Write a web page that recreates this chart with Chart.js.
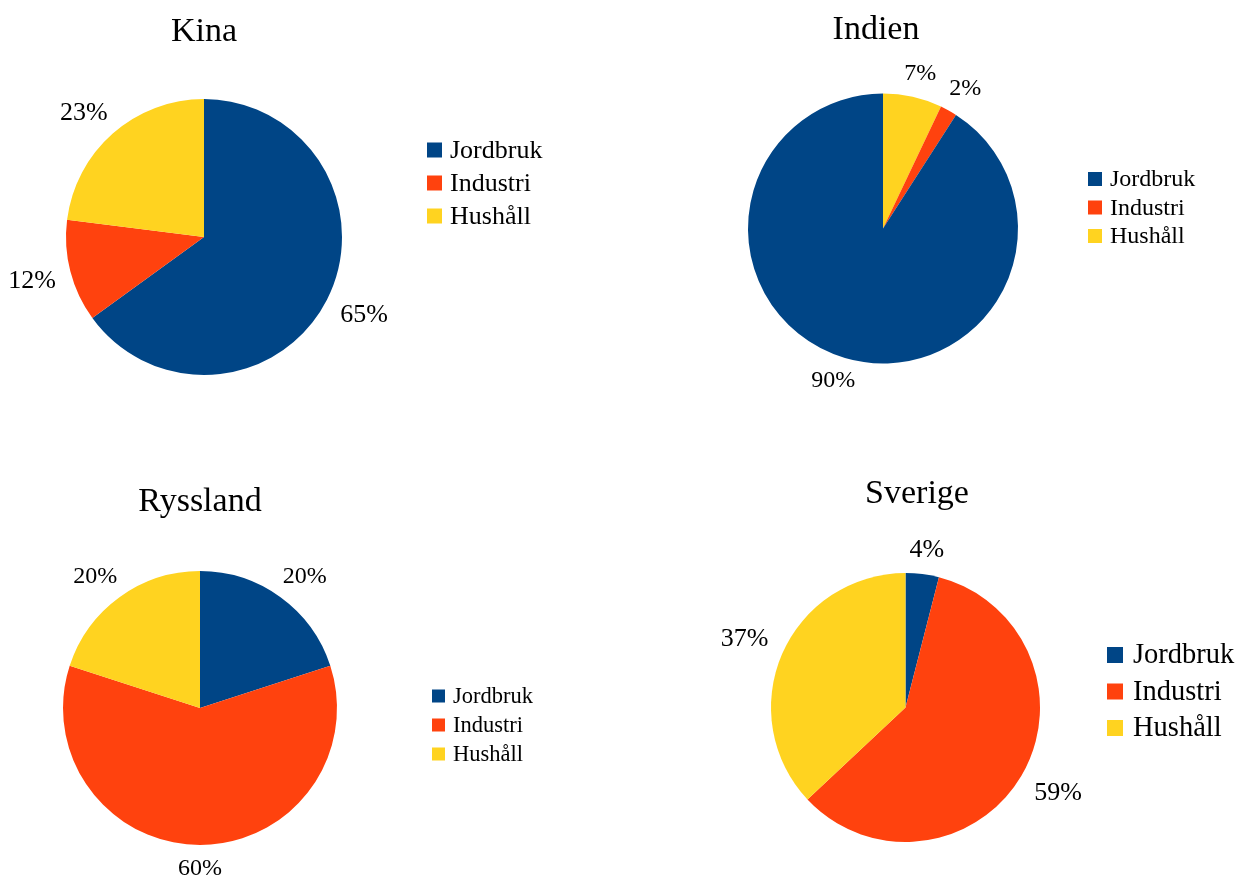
<!DOCTYPE html>
<html>
  <head>
    <meta charset="utf-8">
    <title>Vattenanvändning</title>
    <script src="https://cdn.jsdelivr.net/npm/chart.js"></script>
    <style>
      body { margin: 0; background: #fff; }
      canvas { position: absolute; left: 0; top: 0; }
    </style>
  </head>
  <body>
    <canvas id="kina" width="1239" height="880"></canvas>
    <canvas id="indien" width="1239" height="880"></canvas>
    <canvas id="ryssland" width="1239" height="880"></canvas>
    <canvas id="sverige" width="1239" height="880"></canvas>
    <script>
      // Sectors and their shares (%) per country
      const categories = ["Jordbruk", "Industri", "Hushåll"];
      const colors = ["#004586", "#ff420e", "#ffd320"];
      const kina = [65, 12, 23];
      const indien = [90, 2, 7];
      const ryssland = [20, 60, 20];
      const sverige = [4, 59, 37];

      const W = 1239, H = 880;
      const FONT = "'Liberation Serif', 'Times New Roman', serif";

      // Where each pie sits and how its title, legend and labels are set
      const layouts = [
        { id: "kina", title: "Kina", values: kina, cx: 204, cy: 237, r: 138,
          tx: 204, ty: 41, lx: 427, ltx: 450, ly: 150, lstep: 33, box: 15, lfont: 26, pfont: 26 },
        { id: "indien", title: "Indien", values: indien, cx: 883, cy: 228.5, r: 135, reverse: true,
          tx: 876, ty: 39, lx: 1088, ltx: 1110, ly: 179, lstep: 28.5, box: 14, lfont: 24, pfont: 24 },
        { id: "ryssland", title: "Ryssland", values: ryssland, cx: 200, cy: 708, r: 137,
          tx: 200, ty: 511, lx: 432, ltx: 453, ly: 696, lstep: 29, box: 13, lfont: 22.5, pfont: 24 },
        { id: "sverige", title: "Sverige", values: sverige, cx: 905.5, cy: 707.5, r: 134.5,
          tx: 917, ty: 503, lx: 1107, ltx: 1133, ly: 655, lstep: 36.5, box: 16, lfont: 28.5, pfont: 26 }
      ];

      const clamp = v => Math.max(-1, Math.min(1, v));

      // Title, legend and outside percentage labels
      const extras = {
        id: "extras",
        afterDraw(chart, args, o) {
          const ctx = chart.ctx;
          ctx.save();
          ctx.fillStyle = "#000";

          ctx.font = "34px " + FONT;
          ctx.textAlign = "center";
          ctx.textBaseline = "alphabetic";
          ctx.fillText(o.title, o.tx, o.ty);

          ctx.font = o.lfont + "px " + FONT;
          ctx.textAlign = "left";
          ctx.textBaseline = "middle";
          categories.forEach((c, i) => {
            const y = o.ly + i * o.lstep;
            ctx.fillStyle = colors[i];
            ctx.fillRect(o.lx, y - o.box / 2, o.box, o.box);
            ctx.fillStyle = "#000";
            ctx.fillText(c, o.ltx, y + 1);
          });

          ctx.font = o.pfont + "px " + FONT;
          ctx.textAlign = "center";
          const ds = chart.data.datasets[0];
          chart.getDatasetMeta(0).data.forEach((arc, i) => {
            const a = (arc.startAngle + arc.endAngle) / 2;
            const dx = Math.cos(a), dy = Math.sin(a);
            const d = arc.outerRadius + 15;
            const text = ds.data[i] + "%";
            const w = ctx.measureText(text).width;
            const h = o.pfont * 0.7;
            const x = arc.x + d * dx + (w / 2) * clamp(dx * 1.2);
            const y = arc.y + d * dy + (h / 2) * clamp(dy * 2.5);
            ctx.fillText(text, x, y);
          });
          ctx.restore();
        }
      };

      layouts.forEach(L => {
        let labels = categories.slice(), data = L.values.slice(), bg = colors.slice();
        if (L.reverse) {
          labels.reverse(); data.reverse(); bg.reverse();
        }
        new Chart(document.getElementById(L.id), {
          type: "pie",
          data: {
            labels: labels,
            datasets: [{ data: data, backgroundColor: bg, borderWidth: 0 }]
          },
          options: {
            responsive: false,
            animation: false,
            events: [],
            layout: {
              padding: {
                left: L.cx - L.r,
                right: W - (L.cx + L.r),
                top: L.cy - L.r,
                bottom: H - (L.cy + L.r)
              }
            },
            plugins: {
              legend: { display: false },
              tooltip: { enabled: false },
              extras: L
            }
          },
          plugins: [extras]
        });
      });
    </script>
  </body>
</html>
